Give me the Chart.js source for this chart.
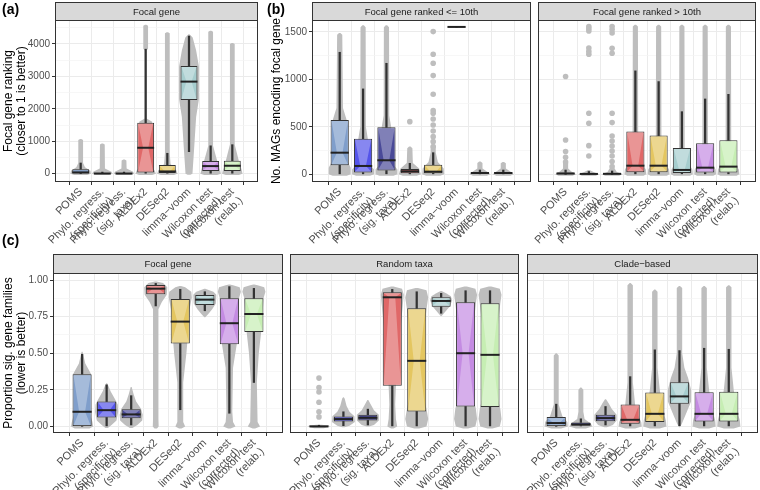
<!DOCTYPE html>
<html>
<head>
<meta charset="utf-8">
<script src="https://cdn.jsdelivr.net/npm/chart.js@4.4.1/dist/chart.umd.min.js"></script>
<style>
  body { margin: 0; background: #fff; width: 760px; height: 490px; position: relative; overflow: hidden; font-family: "Liberation Sans", Arial, sans-serif; }
  canvas { position: absolute; }
  .tag { position: absolute; font-size: 14px; line-height: 18px; font-weight: bold; color: #000; }
</style>
</head>
<body>
<canvas id="pa" width="262" height="262" style="left:0;top:0"></canvas>
<canvas id="pb1" width="273" height="262" style="left:262px;top:0"></canvas>
<canvas id="pb2" width="300" height="262" style="left:460px;top:0"></canvas>
<canvas id="pc1" width="286" height="237" style="left:0;top:253px"></canvas>
<canvas id="pc2" width="317" height="237" style="left:206px;top:253px"></canvas>
<canvas id="pc3" width="317" height="237" style="left:443px;top:253px"></canvas>
<div class="tag" style="left:2px;top:0">(a)</div>
<div class="tag" style="left:267px;top:0">(b)</div>
<div class="tag" style="left:2px;top:231px">(c)</div>
<script>
// methods on the x axis (same for every panel)
const methods = ["POMS", ["Phylo. regress.", "(specificity)"], ["Phylo. regress.", "(sig. taxa)"], "ALDEx2", "DESeq2",
  "limma\u2212voom", ["Wilcoxon test", "(corrected)"], ["Wilcoxon test", "(relab.)"]];
const fills = ["#7f9ecb", "#5454ea", "#4a4a98", "#e06868", "#e4c660", "#a6cdce", "#c48be2", "#c6eeb3"];

// y ticks
const rankTicks = [0, 1000, 2000, 3000, 4000];
const rankMinor = [500, 1500, 2500, 3500, 4500];
const magTicks = [0, 500, 1000, 1500];
const magMinor = [250, 750, 1250];
const propTicks = [0, 0.25, 0.5, 0.75, 1];
const propMinor = [0.125, 0.375, 0.625, 0.875];
const propLabels = ["0.00", "0.25", "0.50", "0.75", "1.00"];

// boxes: [lower whisker, Q1, median, Q3, upper whisker]
// violins: [value, relative half width]
// (a) focal gene ranking
const aBox = [
  [0, 5, 40, 140, 330], [0, 0, 5, 20, 50], [0, 0, 5, 20, 50], [0, 40, 800, 1570, 3840],
  [0, 20, 70, 270, 630], [680, 2270, 2840, 3320, 4245], [0, 80, 235, 390, 860], [0, 80, 245, 400, 895]
];
const aViolin = [
  [[-40, 0.3], [0, 0.47], [90, 0.45], [200, 0.2], [330, 0.11], [1040, 0.11], [1070, 0.03]],
  [[-40, 0.3], [0, 0.47], [60, 0.42], [160, 0.12], [900, 0.11], [930, 0.03]],
  [[-40, 0.3], [0, 0.47], [60, 0.42], [160, 0.12], [410, 0.11], [440, 0.03]],
  [[-40, 0.3], [0, 0.47], [90, 0.42], [200, 0.3], [1600, 0.3], [1700, 0.04], [3800, 0.04], [3850, 0.11], [4560, 0.11], [4590, 0.03]],
  [[-40, 0.3], [0, 0.47], [100, 0.42], [300, 0.15], [640, 0.11], [4330, 0.11], [4360, 0.03]],
  [[-30, 0.06], [0, 0.16], [700, 0.23], [1750, 0.33], [2300, 0.46], [3300, 0.46], [3800, 0.33], [4200, 0.17], [4300, 0.02]],
  [[-40, 0.3], [0, 0.47], [100, 0.44], [400, 0.3], [860, 0.11], [4380, 0.11], [4410, 0.03]],
  [[-40, 0.3], [0, 0.47], [100, 0.44], [400, 0.3], [900, 0.11], [4000, 0.11], [4030, 0.03]]
];
const aDots = [[], [], [], [], [], [], [], []];

// (b) MAGs encoding focal gene, ranked <= 10th
const b1Box = [
  [0, 95, 228, 573, 1286], [0, 18, 88, 376, 900], [0, 39, 148, 495, 1170], [0, 10, 32, 56, 116],
  [0, 10, 28, 102, 228], [1553, 1553, 1553, 1553, 1553], [0, 5, 14, 25, 45], [0, 5, 14, 25, 45]
];
const b1Violin = [
  [[-15, 0.3], [0, 0.47], [70, 0.47], [130, 0.35], [570, 0.3], [700, 0.14], [1470, 0.11], [1490, 0.03]],
  [[-15, 0.3], [0, 0.47], [50, 0.47], [100, 0.3], [380, 0.2], [500, 0.12], [1550, 0.11], [1570, 0.03]],
  [[-15, 0.3], [0, 0.47], [50, 0.47], [100, 0.3], [500, 0.2], [620, 0.12], [1550, 0.11], [1570, 0.03]],
  [[-15, 0.3], [0, 0.47], [60, 0.4], [120, 0.13], [274, 0.11], [292, 0.03]],
  [[-15, 0.3], [0, 0.47], [60, 0.45], [130, 0.2], [230, 0.11], [290, 0.11], [305, 0.03]],
  [],
  [[-15, 0.3], [0, 0.45], [30, 0.3], [60, 0.11], [120, 0.11], [135, 0.03]],
  [[-15, 0.3], [0, 0.45], [30, 0.3], [60, 0.11], [116, 0.11], [131, 0.03]]
];
const b1Dots = [[], [], [], [555], [292, 344, 397, 457, 520, 583, 643, 671, 843, 1040, 1170, 1265, 1504], [], [], []];

// (b) ranked > 10th
const b2Box = [
  [0, 0, 8, 20, 45], [0, 0, 4, 12, 30], [0, 0, 5, 15, 35], [0, 21, 91, 450, 1090],
  [0, 21, 91, 408, 977], [0, 14, 46, 278, 660], [0, 18, 70, 327, 794], [0, 18, 81, 358, 843]
];
const b2Violin = [
  [[-15, 0.3], [0, 0.45], [30, 0.25], [60, 0.11], [120, 0.11], [135, 0.03]],
  [[-15, 0.3], [0, 0.45], [25, 0.2], [45, 0.03]],
  [[-15, 0.3], [0, 0.45], [25, 0.2], [60, 0.11], [75, 0.03]],
  [[-15, 0.35], [0, 0.47], [50, 0.45], [150, 0.2], [450, 0.12], [1557, 0.11], [1575, 0.03]],
  [[-15, 0.35], [0, 0.47], [50, 0.45], [150, 0.2], [410, 0.12], [1557, 0.11], [1575, 0.03]],
  [[-15, 0.35], [0, 0.47], [50, 0.45], [150, 0.2], [280, 0.12], [1557, 0.11], [1575, 0.03]],
  [[-15, 0.35], [0, 0.47], [50, 0.45], [150, 0.2], [330, 0.12], [1557, 0.11], [1575, 0.03]],
  [[-15, 0.35], [0, 0.47], [50, 0.45], [150, 0.2], [360, 0.12], [1557, 0.11], [1575, 0.03]]
];
const b2Dots = [
  [130, 180, 240, 362, 1030],
  [193, 302, 538, 643, 1265, 1295, 1330, 1510, 1535, 1557],
  [81, 134, 193, 246, 299, 351, 404, 545, 643, 1276, 1328, 1490, 1525, 1557],
  [], [], [], [], []
];

// (c) proportion sig. gene families: focal gene
const c1Box = [
  [0, 0, 0.10, 0.357, 0.493], [0, 0.061, 0.111, 0.17, 0.284], [0.01, 0.055, 0.082, 0.118, 0.21],
  [0.823, 0.902, 0.941, 0.966, 0.977], [0.114, 0.566, 0.716, 0.87, 0.936], [0.79, 0.83, 0.866, 0.898, 0.92],
  [0.09, 0.561, 0.705, 0.875, 0.955], [0.30, 0.645, 0.768, 0.875, 0.943]
];
const c1Violin = [
  [[-0.015, 0.3], [0, 0.45], [0.03, 0.42], [0.1, 0.3], [0.25, 0.3], [0.36, 0.36], [0.43, 0.13], [0.51, 0.02]],
  [[-0.01, 0.05], [0.01, 0.2], [0.04, 0.4], [0.1, 0.47], [0.15, 0.45], [0.18, 0.36], [0.24, 0.16], [0.27, 0.09], [0.295, 0.02]],
  [[-0.01, 0.05], [0.01, 0.25], [0.04, 0.45], [0.08, 0.47], [0.12, 0.4], [0.17, 0.2], [0.22, 0.1], [0.27, 0.02]],
  [[-0.015, 0.05], [0, 0.12], [0.05, 0.11], [0.8, 0.11], [0.85, 0.25], [0.9, 0.45], [0.95, 0.47], [0.98, 0.3], [0.99, 0.03]],
  [[-0.015, 0.05], [0, 0.2], [0.03, 0.12], [0.3, 0.12], [0.5, 0.25], [0.6, 0.3], [0.8, 0.38], [0.88, 0.47], [0.92, 0.45], [0.95, 0.2], [0.96, 0.03]],
  [[0.745, 0.02], [0.77, 0.15], [0.8, 0.3], [0.84, 0.45], [0.9, 0.47], [0.92, 0.35], [0.935, 0.1], [0.94, 0.02]],
  [[-0.015, 0.05], [0, 0.25], [0.03, 0.15], [0.1, 0.12], [0.4, 0.15], [0.56, 0.3], [0.88, 0.4], [0.92, 0.47], [0.95, 0.42], [0.965, 0.15], [0.97, 0.02]],
  [[-0.015, 0.05], [0, 0.25], [0.03, 0.15], [0.3, 0.12], [0.5, 0.2], [0.65, 0.3], [0.88, 0.4], [0.92, 0.47], [0.95, 0.42], [0.965, 0.15], [0.97, 0.02]]
];
const c1Dots = [[], [], [], [], [], [], [], []];

// (c) random taxa
const c2Box = [
  [0, 0, 0, 0.004, 0.008], [0.005, 0.034, 0.05, 0.068, 0.10], [0.01, 0.041, 0.059, 0.08, 0.118],
  [0, 0.277, 0.882, 0.916, 0.936], [0, 0.102, 0.448, 0.807, 0.92], [0.773, 0.818, 0.857, 0.882, 0.909],
  [0, 0.136, 0.50, 0.848, 0.927], [0, 0.132, 0.489, 0.841, 0.927]
];
const c2Violin = [
  [[-0.012, 0.2], [0, 0.45], [0.006, 0.4], [0.012, 0.1]],
  [[-0.005, 0.05], [0.005, 0.25], [0.03, 0.47], [0.07, 0.45], [0.1, 0.25], [0.14, 0.13], [0.19, 0.05], [0.2, 0.01]],
  [[0, 0.05], [0.01, 0.25], [0.04, 0.45], [0.08, 0.45], [0.11, 0.25], [0.15, 0.12], [0.18, 0.02]],
  [[-0.015, 0.05], [0, 0.2], [0.05, 0.15], [0.15, 0.12], [0.28, 0.15], [0.6, 0.3], [0.9, 0.47], [0.94, 0.4], [0.955, 0.05]],
  [[-0.015, 0.1], [0, 0.4], [0.05, 0.47], [0.1, 0.42], [0.2, 0.3], [0.5, 0.2], [0.8, 0.4], [0.88, 0.47], [0.93, 0.4], [0.945, 0.05]],
  [[0.755, 0.02], [0.78, 0.15], [0.82, 0.35], [0.86, 0.45], [0.89, 0.4], [0.91, 0.2], [0.925, 0.02]],
  [[-0.015, 0.1], [0, 0.4], [0.05, 0.47], [0.12, 0.42], [0.2, 0.3], [0.5, 0.2], [0.84, 0.42], [0.9, 0.47], [0.94, 0.4], [0.955, 0.05]],
  [[-0.015, 0.1], [0, 0.4], [0.05, 0.47], [0.12, 0.42], [0.2, 0.3], [0.5, 0.2], [0.84, 0.42], [0.9, 0.47], [0.94, 0.4], [0.955, 0.05]]
];
const c2Dots = [[0.065, 0.10, 0.165, 0.235, 0.265, 0.33], [], [], [], [], [], [], []];

// (c) clade-based
const c3Box = [
  [0, 0, 0.023, 0.064, 0.152], [0, 0.005, 0.014, 0.027, 0.052], [0.01, 0.036, 0.057, 0.08, 0.136],
  [0, 0.018, 0.045, 0.15, 0.34], [0, 0.03, 0.086, 0.232, 0.523], [0.005, 0.155, 0.205, 0.302, 0.518],
  [0, 0.034, 0.086, 0.234, 0.534], [0, 0.034, 0.086, 0.236, 0.527]
];
const c3Violin = [
  [[-0.015, 0.2], [0, 0.47], [0.03, 0.45], [0.07, 0.25], [0.15, 0.1], [0.485, 0.1], [0.5, 0.02]],
  [[-0.015, 0.2], [0, 0.47], [0.02, 0.4], [0.05, 0.15], [0.1, 0.1], [0.25, 0.1], [0.265, 0.02]],
  [[-0.005, 0.05], [0.01, 0.3], [0.04, 0.45], [0.08, 0.45], [0.12, 0.25], [0.16, 0.12], [0.185, 0.02]],
  [[-0.015, 0.2], [0, 0.47], [0.03, 0.45], [0.08, 0.3], [0.15, 0.2], [0.3, 0.11], [0.965, 0.11], [0.98, 0.02]],
  [[-0.015, 0.2], [0, 0.47], [0.04, 0.45], [0.1, 0.35], [0.25, 0.2], [0.4, 0.11], [0.92, 0.11], [0.935, 0.02]],
  [[-0.005, 0.02], [0.02, 0.1], [0.1, 0.3], [0.17, 0.47], [0.25, 0.47], [0.33, 0.35], [0.4, 0.2], [0.5, 0.11], [0.945, 0.11], [0.96, 0.02]],
  [[-0.015, 0.2], [0, 0.47], [0.04, 0.45], [0.1, 0.35], [0.25, 0.2], [0.4, 0.11], [0.945, 0.11], [0.96, 0.02]],
  [[-0.015, 0.2], [0, 0.47], [0.04, 0.45], [0.1, 0.35], [0.25, 0.2], [0.4, 0.11], [0.95, 0.11], [0.965, 0.02]]
];
const c3Dots = [[], [], [], [], [], [], [], []];

Chart.defaults.font.family = '"Liberation Sans", Arial, sans-serif';

// violins behind the boxes, notch shading, strip and panel border
function decor(p) {
  return {
    id: "decor",
    beforeDatasetsDraw(chart) {
      const { ctx, chartArea: ca, scales: { x, y } } = chart;
      const sp = x.getPixelForValue(1) - x.getPixelForValue(0);
      ctx.save();
      ctx.beginPath();
      ctx.rect(ca.left, ca.top, ca.right - ca.left, ca.bottom - ca.top);
      ctx.clip();
      ctx.fillStyle = "#bebebe";
      p.violin.forEach((prof, i) => {
        if (!prof.length) return;
        const cx = x.getPixelForValue(i);
        ctx.beginPath();
        prof.forEach(([v, w]) => ctx.lineTo(cx + w * sp, y.getPixelForValue(v)));
        for (let k = prof.length - 1; k >= 0; k--) ctx.lineTo(cx - prof[k][1] * sp, y.getPixelForValue(prof[k][0]));
        ctx.closePath();
        ctx.fill();
      });
      ctx.restore();
    },
    afterDatasetDraw(chart, args) {
      if (chart.data.datasets[args.index].label !== "box") return;
      const { ctx, scales: { y } } = chart;
      ctx.save();
      ctx.fillStyle = "rgba(255,255,255,0.3)";
      p.box.forEach((b, i) => {
        const el = args.meta.data[i];
        const y1 = y.getPixelForValue(b[1]), ym = y.getPixelForValue(b[2]), y3 = y.getPixelForValue(b[3]);
        if (y1 - y3 < 6) return;
        const h = el.width / 2 - 1, n = h * 0.35;
        ctx.beginPath();
        ctx.moveTo(el.x - h, y1 - 1);
        ctx.lineTo(el.x + h, y1 - 1);
        ctx.lineTo(el.x + n, ym);
        ctx.lineTo(el.x + h, y3 + 1);
        ctx.lineTo(el.x - h, y3 + 1);
        ctx.lineTo(el.x - n, ym);
        ctx.closePath();
        ctx.fill();
      });
      ctx.restore();
    },
    afterDraw(chart) {
      const { ctx, chartArea: ca } = chart;
      ctx.save();
      ctx.strokeStyle = "#333";
      ctx.lineWidth = 1;
      ctx.strokeRect(Math.round(ca.left) + 0.5, Math.round(ca.top) + 0.5, Math.round(ca.right - ca.left) - 1, Math.round(ca.bottom - ca.top) - 1);
      const top = Math.round(ca.top) - p.stripH;
      ctx.fillStyle = "#d9d9d9";
      ctx.fillRect(Math.round(ca.left) + 0.5, top + 0.5, Math.round(ca.right - ca.left) - 1, p.stripH);
      ctx.strokeRect(Math.round(ca.left) + 0.5, top + 0.5, Math.round(ca.right - ca.left) - 1, p.stripH);
      ctx.fillStyle = "#1a1a1a";
      ctx.font = '9.5px "Liberation Sans", Arial, sans-serif';
      ctx.textAlign = "center";
      ctx.textBaseline = "middle";
      ctx.fillText(p.strip, (ca.left + ca.right) / 2, top + p.stripH / 2 + 1);
      ctx.restore();
    }
  };
}

function panel(id, p) {
  const major = v => p.ticks.includes(v);
  new Chart(document.getElementById(id), {
    type: "bar",
    data: {
      datasets: [
        { type: "scatter", label: "dots", data: p.dots.flatMap((vals, i) => vals.map(v => ({ x: i, y: v }))),
          pointRadius: 2.8, pointBackgroundColor: "#bebebe", pointBorderWidth: 0, order: 5 },
        { label: "whiskerLow", data: p.box.map((b, i) => ({ x: i, y: [b[0], b[1]] })),
          backgroundColor: "#333", barThickness: 1.6, grouped: false, order: 4 },
        { label: "whiskerHigh", data: p.box.map((b, i) => ({ x: i, y: [b[3], b[4]] })),
          backgroundColor: "#333", barThickness: 1.6, grouped: false, order: 4 },
        { label: "box", data: p.box.map((b, i) => ({ x: i, y: [b[1], b[3]] })),
          backgroundColor: fills, borderColor: "#333", borderWidth: 1, borderSkipped: false,
          barPercentage: 0.78, categoryPercentage: 1, grouped: false, order: 2 },
        { type: "scatter", label: "median", data: p.box.map((b, i) => ({ x: i, y: b[2] })),
          pointStyle: "line", pointBorderColor: "#222", pointBorderWidth: 2,
          pointRadius: c => (c.chart.scales.x.getPixelForValue(1) - c.chart.scales.x.getPixelForValue(0)) * 0.39,
          order: 1 }
      ]
    },
    options: {
      responsive: false,
      animation: false,
      events: [],
      layout: { padding: { top: p.padTop, right: p.padRight, left: 0, bottom: 0 } },
      plugins: { legend: { display: false }, tooltip: { enabled: false } },
      scales: {
        x: {
          type: "linear", min: -0.6, max: 7.6,
          afterBuildTicks: s => { s.ticks = methods.map((m, i) => ({ value: i })); },
          afterFit: s => { s.height = p.xHeight; },
          ticks: { autoSkip: false, maxRotation: 45, minRotation: 45, padding: 1, color: "#4d4d4d",
            font: { size: 11, lineHeight: 1.1 }, callback: v => methods[v] },
          grid: { color: "#ebebeb", tickColor: "#333", tickLength: 3 },
          border: { display: false }
        },
        y: {
          min: p.yMin, max: p.yMax,
          afterBuildTicks: s => { s.ticks = p.ticks.concat(p.minor).sort((a, b) => a - b).map(v => ({ value: v })); },
          afterFit: s => { s.width = p.yWidth; },
          ticks: { display: p.showY, autoSkip: false, color: "#4d4d4d", font: { size: 10 }, padding: 2,
            callback: v => { const k = p.ticks.indexOf(v); return k < 0 ? "" : p.tickText[k]; } },
          grid: {
            color: c => major(c.tick.value) ? "#ebebeb" : "#f3f3f3",
            lineWidth: c => major(c.tick.value) ? 1 : 0.7,
            tickColor: c => major(c.tick.value) ? "#333" : "rgba(0,0,0,0)",
            tickLength: 3, drawTicks: p.showY
          },
          title: { display: !!p.yTitle, text: p.yTitle, color: "#000", font: { size: 12, lineHeight: 1.1 },
            padding: { top: p.titlePad, bottom: 0 } },
          border: { display: false }
        }
      }
    },
    plugins: [decor(p)]
  });
}

const rankAxis = { yMin: -256, yMax: 4740, ticks: rankTicks, minor: rankMinor, tickText: rankTicks.map(String) };
const magAxis = { yMin: -81, yMax: 1626, ticks: magTicks, minor: magMinor, tickText: magTicks.map(String) };
const propAxis = { yMin: -0.045, yMax: 1.048, ticks: propTicks, minor: propMinor, tickText: propLabels };

panel("pa", Object.assign({ box: aBox, violin: aViolin, dots: aDots, strip: "Focal gene", stripH: 18,
  yTitle: ["Focal gene ranking", "(closer to 1 is better)"], titlePad: 2, showY: true,
  yWidth: 55, padTop: 20, padRight: 4, xHeight: 80 }, rankAxis));
panel("pb1", Object.assign({ box: b1Box, violin: b1Violin, dots: b1Dots, strip: "Focal gene ranked <= 10th", stripH: 18,
  yTitle: "No. MAGs encoding focal gene", titlePad: 8, showY: true,
  yWidth: 50, padTop: 20, padRight: 3, xHeight: 80 }, magAxis));
panel("pb2", Object.assign({ box: b2Box, violin: b2Violin, dots: b2Dots, strip: "Focal gene ranked > 10th", stripH: 18,
  yTitle: "", titlePad: 0, showY: false,
  yWidth: 78, padTop: 20, padRight: 2, xHeight: 80 }, magAxis));
panel("pc1", Object.assign({ box: c1Box, violin: c1Violin, dots: c1Dots, strip: "Focal gene", stripH: 19,
  yTitle: ["Proportion sig. gene families", "(lower is better)"], titlePad: 2, showY: true,
  yWidth: 53, padTop: 20, padRight: 3, xHeight: 57 }, propAxis));
panel("pc2", Object.assign({ box: c2Box, violin: c2Violin, dots: c2Dots, strip: "Random taxa", stripH: 19,
  yTitle: "", titlePad: 0, showY: false,
  yWidth: 84, padTop: 20, padRight: 2, xHeight: 57 }, propAxis));
panel("pc3", Object.assign({ box: c3Box, violin: c3Violin, dots: c3Dots, strip: "Clade\u2212based", stripH: 19,
  yTitle: "", titlePad: 0, showY: false,
  yWidth: 84, padTop: 20, padRight: 2, xHeight: 57 }, propAxis));
</script>
</body>
</html>
